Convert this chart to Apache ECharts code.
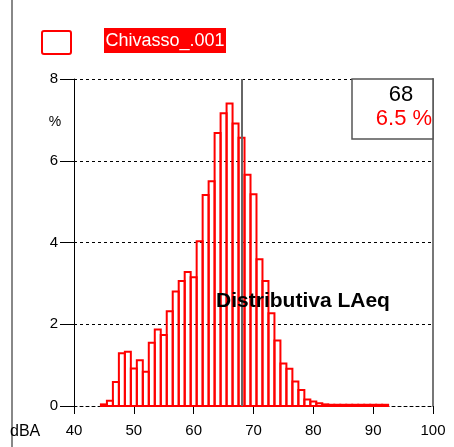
<!DOCTYPE html>
<html>
<head>
<meta charset="utf-8">
<script src="https://cdn.jsdelivr.net/npm/echarts@6/dist/echarts.min.js"></script>
<style>
  html, body { margin: 0; padding: 0; background: #fff; }
  #chart { width: 454px; height: 447px; }
</style>
</head>
<body>
<div id="chart"></div>
<script>
// dBA classes (1 dB bins) and share of time in each (%)
var levels = [45, 46, 47, 48, 49, 50, 51, 52, 53, 54, 55, 56, 57, 58, 59, 60, 61, 62, 63, 64,
  65, 66, 67, 68, 69, 70, 71, 72, 73, 74, 75, 76, 77, 78, 79, 80, 81, 82, 83, 84,
  85, 86, 87, 88, 89, 90, 91, 92]
var percents = [0.04, 0.13, 0.59, 1.29, 1.33, 0.92, 1.12, 0.84, 1.55, 1.87, 1.74, 2.32, 2.80, 3.06, 3.28, 3.15, 4.03, 5.16, 5.50, 6.68,
  7.16, 7.40, 6.91, 6.56, 5.66, 5.18, 3.59, 3.06, 2.27, 1.60, 1.04, 0.91, 0.60, 0.39, 0.16, 0.11, 0.07, 0.04, 0.03, 0.03,
  0.03, 0.03, 0.03, 0.03, 0.03, 0.03, 0.03, 0.03]
var cursorLevel = 68
var cursorPercent = '6.5 %'
var seriesName = 'Chivasso_.001'
var chartTitle = 'Distributiva LAeq'

var histData = levels.map(function (l, i) { return [l, percents[i]] })

var myChart = echarts.init(document.getElementById('chart'))
var option = {
  animation: false,
  grid: { left: 74, right: 21, top: 79, bottom: 41 },
  xAxis: {
    type: 'value',
    min: 40,
    max: 100,
    interval: 10,
    axisLine: { show: true, lineStyle: { color: '#000', width: 1, type: [3, 3] } },
    axisTick: { show: true, length: 8, lineStyle: { color: '#000', width: 1 } },
    axisLabel: { color: '#000', fontSize: 15, fontFamily: 'Liberation Sans', margin: 17 },
    splitLine: { show: false }
  },
  yAxis: [
    {
      type: 'value',
      min: 0,
      max: 8,
      interval: 2,
      axisLine: { show: true, lineStyle: { color: '#000', width: 1 } },
      axisTick: { show: true, length: 14, lineStyle: { color: '#000', width: 1 } },
      axisLabel: { color: '#000', fontSize: 15, fontFamily: 'Liberation Sans', margin: 16 },
      splitLine: { show: true, lineStyle: { color: '#000', width: 1, type: [3, 3] } }
    },
    {
      type: 'value',
      position: 'right',
      min: 0,
      max: 8,
      interval: 2,
      axisLine: { show: true, lineStyle: { color: '#777', width: 2 } },
      axisTick: { show: false },
      axisLabel: { show: false },
      splitLine: { show: false }
    }
  ],
  series: [
    {
      name: seriesName,
      type: 'custom',
      data: histData,
      renderItem: function (params, api) {
        var p0 = api.coord([api.value(0) - 0.5, api.value(1)])
        var p1 = api.coord([api.value(0) + 0.5, 0])
        return {
          type: 'rect',
          shape: { x: p0[0], y: p0[1], width: p1[0] - p0[0], height: p1[1] - p0[1] },
          style: { fill: 'none', stroke: '#ff0000', lineWidth: 2 }
        }
      },
      markLine: {
        silent: true,
        symbol: 'none',
        label: { show: false },
        lineStyle: { color: '#666', width: 2, type: 'solid' },
        data: [{ xAxis: cursorLevel }]
      }
    }
  ],
  graphic: [
    { type: 'line', shape: { x1: 12, y1: 0, x2: 12, y2: 447 }, style: { stroke: '#888', lineWidth: 2 } },
    { type: 'rect', shape: { x: 42, y: 31, width: 29, height: 23, r: 2 }, style: { fill: '#fff', stroke: '#ff0000', lineWidth: 2 } },
    { type: 'rect', shape: { x: 104, y: 28, width: 122, height: 25 }, style: { fill: '#ff0000' } },
    { type: 'text', x: 165, y: 41, style: { text: seriesName, fill: '#fff', font: '18px "Liberation Sans"', align: 'center', verticalAlign: 'middle' } },
    { type: 'rect', shape: { x: 352, y: 79, width: 81, height: 60 }, style: { fill: '#fff', stroke: '#555', lineWidth: 1.5 }, z: 10 },
    { type: 'text', x: 401, y: 95, z: 11, style: { text: String(cursorLevel), fill: '#000', font: '22px "Liberation Sans"', align: 'center', verticalAlign: 'middle' } },
    { type: 'text', x: 404, y: 119, z: 11, style: { text: cursorPercent, fill: '#ff0000', font: '22px "Liberation Sans"', align: 'center', verticalAlign: 'middle' } },
    { type: 'text', x: 303, y: 301, z: 11, style: { text: chartTitle, fill: '#000', font: 'bold 21px "Liberation Sans"', align: 'center', verticalAlign: 'middle' } },
    { type: 'text', x: 55, y: 122, style: { text: '%', fill: '#000', font: '14px "Liberation Sans"', align: 'center', verticalAlign: 'middle' } },
    { type: 'text', x: 10, y: 432, style: { text: 'dBA', fill: '#000', font: '16px "Liberation Sans"', align: 'left', verticalAlign: 'middle' } }
  ]
}
myChart.setOption(option)
</script>
</body>
</html>
